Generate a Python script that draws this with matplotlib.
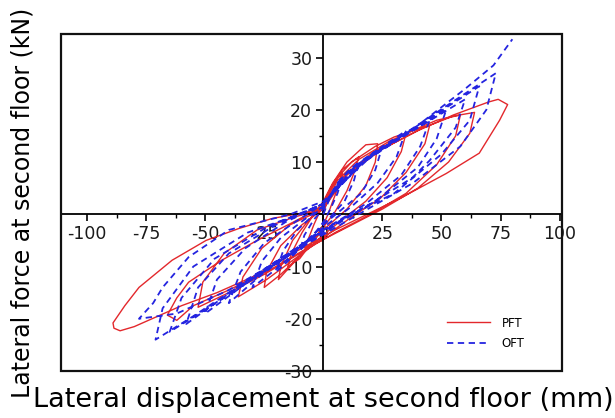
import matplotlib
matplotlib.use("Agg")
import matplotlib.pyplot as plt
from matplotlib.patches import Rectangle
from matplotlib.lines import Line2D

plt.rcParams['font.family'] = ['DejaVu Sans']
plt.rcParams['axes.unicode_minus'] = False

# PFT hysteresis path (mm, kN)
pft_x = [0, 3, 6, 8, 7, 4, 2, 0, -4, -8, -7, -4, -2, 0,
         3, 8, 12, 15, 13.5, 10, 5, 0, -5, -10, -15, -13.5, -9, -4, 0,
         4, 10, 16, 18, 23, 22, 18, 10, 5, 0, -8, -14, -19, -18, -13, -6, 0,
         5, 12, 22, 30, 35, 33, 27, 18, 8, 0, -10, -18, -25, -24, -18, -9, 0,
         6, 15, 28, 38, 45, 43, 35, 24, 12, 0, -12, -24, -36, -34, -26, -14, 0,
         8, 20, 35, 48, 58, 56, 48, 35, 20, 5, -10, -25, -40, -53, -51, -42, -28, -12, 0,
         10, 25, 42, 55, 64, 62, 53, 40, 25, 10, -5, -22, -40, -55, -62, -66, -62, -57, -43, -28, -14, 0,
         10, 25, 40, 55, 70, 74, 78, 74.6, 66, 52, 33.5, 19.5, 5, -15, -30, -45, -60, -70, -80, -86, -88.6,
         -89, -84, -78, -64, -49.6, -35.6, -21.6, -7, 0]
pft_y = [0, 4.5, 7, 8, 6, 2.5, 0, -2, -5, -7, -5.5, -2, 0, 2,
         5, 8.5, 10, 11, 8.5, 4.5, 0.5, -2.5, -5.5, -8.5, -10, -7.5, -3.5, 0, 2.5,
         6, 10, 12.5, 13.3, 13.5, 10, 5.5, 1, -1, -3, -7, -10, -12.5, -10, -5, -1, 1.5,
         6.5, 10, 13, 14.8, 15.5, 12, 7, 2.5, -1, -4, -8, -11.5, -14, -11, -6, -2, 1,
         6.5, 10.5, 14, 16, 17, 13.5, 8, 3, -0.5, -4.5, -8.5, -12.5, -15.8, -12, -6.5, -2, 1,
         7, 11.5, 15.5, 18, 19, 15, 9.5, 4, 0, -3.5, -7.5, -11.5, -15, -17.8, -13, -7.5, -3, -0.5, 1,
         7.5, 12.5, 16.5, 18.8, 19.5, 15.5, 10, 5, 1, -2.5, -6, -10.5, -14.5, -17.5, -20.3, -19.3, -16, -13, -8.8, -5, -1.8, 1.5,
         8, 12.5, 16, 19, 21.5, 22, 21, 18, 11.7, 7.8, 3.3, 0.2, -3, -8, -12, -15, -17.5, -19.5, -21.5, -22.3, -21.8,
         -20.8, -17.5, -14, -8.8, -5, -2.7, -0.8, 0.4, 1.5]

# OFT hysteresis path
oft_x = [0, 4, 8, 6, 3, 0, -5, -10, -8, -4, 0,
         6, 11, 15, 13, 9, 4, 0, -8, -15, -20, -17, -11, -5, 0,
         8, 17, 25, 22, 16, 8, 0, -10, -20, -30, -26, -18, -8, 0,
         10, 22, 35, 31, 23, 12, 0, -12, -26, -40, -35, -25, -12, 0,
         12, 28, 45, 41, 33, 18, 0, -15, -32, -50, -45, -33, -16, 0,
         14, 32, 52, 48, 40, 22, 0, -18, -38, -58, -53, -40, -20, 0,
         15, 38, 60, 56, 45, 37.7, 20, 0, -20, -42, -65, -60, -46, -24, 0,
         16, 42, 66, 62, 50, 30, 10, -10, -35, -55, -71, -68, -55, -32, -10, 0,
         18, 48, 73, 69, 58, 38, 15, -10, -40, -62, -78, -72, -68, -57, -40, -14, 0,
         20, 40, 60, 72, 80]
oft_y = [0, 4.5, 7, 4, 1, -1.5, -4.5, -7, -4, -1, 1,
         6, 8.5, 10, 6.5, 2.5, 0, -2, -5.5, -9, -11, -7, -3, -0.5, 1.5,
         7, 10.5, 13, 8.5, 4, 1, -2, -6.5, -10.5, -14, -9, -4.5, -1, 1.5,
         8, 12, 16, 11, 6, 1.5, -2.5, -7, -11.5, -17, -11, -5.5, -1.5, 2,
         8.5, 13.5, 18, 13, 7.5, 2, -3, -8, -13, -19, -12.5, -6.5, -1.5, 2,
         9, 14.5, 20, 14.5, 9, 2.5, -3, -8.5, -14.5, -21, -14, -7.5, -2, 2,
         9.5, 16, 22, 16.6, 10.3, 7, 2, -3.5, -9.5, -16, -22.5, -16, -8.5, -2.5, 2,
         10, 17.5, 24.5, 18, 11.5, 4, -0.5, -6, -13.5, -19.5, -24, -18, -10, -3.5, 0, 2,
         10.5, 19.5, 27, 20, 13, 6, 0, -6.5, -14.5, -19, -20, -17, -14, -8.2, -3, 0, 2.5,
         11, 17, 24, 28.5, 33.5]

xticks = [-100, -75, -50, -25, 0, 25, 50, 75, 100]
xticklabels = ['-100', '-75', '-50', '-25', '0', '25', '50', '75', '100']
yticks = [-30, -20, -10, 0, 10, 20, 30]
yticklabels = ['-30', '-20', '-10', '', '10', '20', '30']

red = '#e3282c'
blue = '#2424e0'

fig = plt.figure(figsize=(6.15, 4.18), dpi=100)
ax = fig.add_axes([0.0992, 0.1124, 0.8146, 0.8062])

ax.plot(pft_x, pft_y, color=red, lw=1.0, zorder=2)
ax.plot(oft_x, oft_y, color=blue, lw=1.3, ls=(0, (3.5, 2.5)), zorder=3)

ax.set_xlim(-111, 101)
ax.set_ylim(-30, 34.5)

# origin-style axes through zero plus a closed frame
ax.spines['left'].set_position(('data', 0))
ax.spines['bottom'].set_position(('data', 0))
ax.spines['top'].set_visible(False)
ax.spines['right'].set_visible(False)
ax.spines['left'].set_linewidth(1.3)
ax.spines['bottom'].set_linewidth(1.3)
ax.add_patch(Rectangle((0, 0), 1, 1, transform=ax.transAxes, fill=False,
                       lw=1.6, ec='#111111', clip_on=False, zorder=5))

ax.set_xticks(xticks)
ax.set_xticklabels(xticklabels)
ax.set_xticks([-100 + 12.5 * i for i in range(17)], minor=True)
ax.set_yticks(yticks)
ax.set_yticklabels(yticklabels)
ax.set_yticks([-25, -15, -5, 5, 15, 25], minor=True)
ax.tick_params(which='major', direction='out', length=5, width=1.2,
               labelsize=12.5, pad=3, labelcolor='#1a1a1a')
ax.tick_params(which='minor', direction='out', length=3, width=1.0)

fig.text(0.526, 0.043, 'Lateral displacement at second floor (mm)',
         fontsize=19.5, ha='center', va='center')
fig.text(0.036, 0.515, 'Lateral force at second floor (kN)',
         fontsize=17, ha='center', va='center', rotation=90)

handles = [Line2D([], [], color=red, lw=1.0),
           Line2D([], [], color=blue, lw=1.3, ls=(0, (3.5, 2.5)))]
fig.legend(handles, ['PFT', 'OFT'], loc='center', bbox_to_anchor=(0.79, 0.203),
           frameon=False, fontsize=8.5, handlelength=3.6, handletextpad=1.0,
           labelspacing=0.6)

fig.savefig('out.png', dpi=100)
